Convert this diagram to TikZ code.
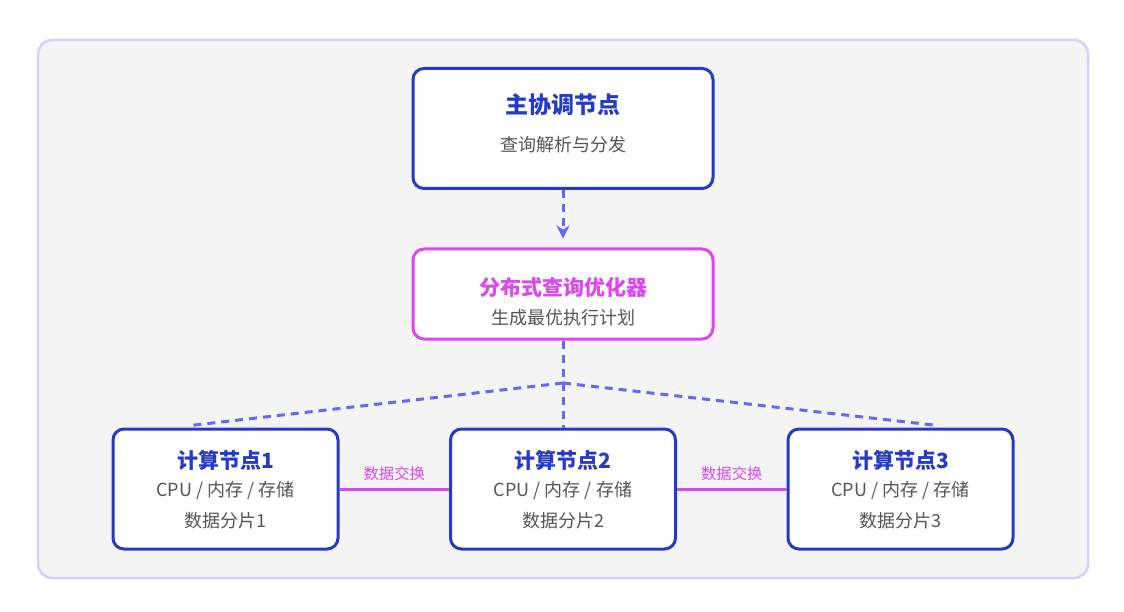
\documentclass[tikz,border=0pt]{standalone}
\usepackage{fontspec}
\setmainfont{Noto Sans CJK SC}
\usepackage{tikz}
\usepackage{xcolor}
\usetikzlibrary{arrows.meta, positioning}

\definecolor{nodeblue}{RGB}{38,58,200}
\definecolor{optpink}{RGB}{218,72,238}
\definecolor{flowblue}{RGB}{100,104,242}
\definecolor{framelav}{RGB}{216,206,255}
\definecolor{panelgray}{RGB}{244,244,244}
\definecolor{textgray}{RGB}{85,85,85}

\tikzset{
  box/.style={draw=nodeblue, line width=3pt, rounded corners=11pt, fill=white,
    minimum width=225pt, minimum height=120pt, inner sep=0pt},
  bigbox/.style={box, minimum width=300pt},
  optbox/.style={box, draw=optpink, minimum width=300pt, minimum height=90pt},
  title/.style={font=\bfseries\fontsize{21}{24}\selectfont, text=nodeblue},
  sub/.style={font=\fontsize{18}{21}\selectfont, text=textgray},
  flow/.style={draw=flowblue, line width=3pt, dash pattern=on 8pt off 6pt},
  swap/.style={draw=optpink, line width=3pt},
  swaplabel/.style={font=\fontsize{15.3}{17}\selectfont, text=optpink, above=3pt}
}

\begin{document}
\begin{tikzpicture}[>=Stealth, x=1pt, y=-1pt]
    % canvas and panel
    \useasboundingbox[fill=white] (0,0) rectangle (1124,612);
    \draw[draw=framelav, line width=2.5pt, fill=panelgray, rounded corners=14pt]
        (38,40) rectangle (1088,578);

    % coordinator
    \node[bigbox] (coord) at (563,128.5) {};
    \node[title, font=\bfseries\fontsize{23}{26}\selectfont] (coordT) at (563,105) {主协调节点};
    \node[sub] (coordS) at (563,145) {查询解析与分发};

    % optimizer
    \node[optbox] (opt) at (563,294) {};
    \node[title, text=optpink] (optT) at (563,287) {分布式查询优化器};
    \node[sub] (optS) at (563,318) {生成最优执行计划};

    % compute nodes
    \foreach \i/\x in {1/225.5, 2/563, 3/900.5} {
        \node[box] (n\i) at (\x,489) {};
        \node[title] (n\i T) at (\x,460) {计算节点\i};
        \node[sub] (n\i C) at (\x,491) {CPU / 内存 / 存储};
        \node[sub] (n\i D) at (\x,521) {数据分片\i};
    }

    % query flow
    \draw[flow, -{Stealth[length=13pt, width=13pt]}] (coord.south) -- ([yshift=9pt]opt.north);
    \coordinate (split) at (563,383);
    \draw[flow] (opt.south) -- (n2.north);
    \draw[flow] (split) -- ([xshift=-35pt, yshift=2pt]n1.north);
    \draw[flow] (split) -- ([xshift=37pt, yshift=2pt]n3.north);

    % data exchange
    \draw[swap] (n1.east) -- node[swaplabel] {数据交换} (n2.west);
    \draw[swap] (n2.east) -- node[swaplabel] {数据交换} (n3.west);
\end{tikzpicture}
\end{document}
